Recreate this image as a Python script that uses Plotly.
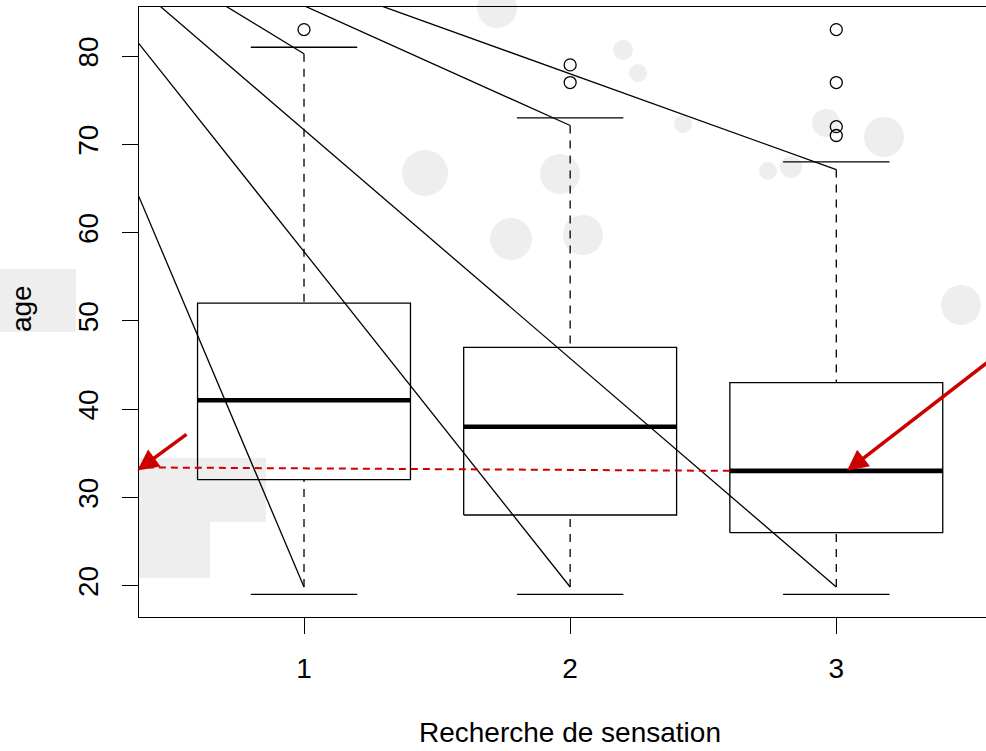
import plotly.graph_objects as go

# ---------------- data ----------------
groups = [1, 2, 3]
tick_labels = ["1", "2", "3"]
q1 = [32, 28, 26]
medians = [41, 38, 33]
q3 = [52, 47, 43]
whisker_low = [19, 19, 19]
whisker_high = [81, 73, 68]
outlier_x = [1, 2, 2, 3, 3, 3, 3]
outlier_y = [83, 77, 79, 71, 72, 77, 83]
# where the dashed whiskers / pointer lines end
line_end_low = [19.84, 19.84, 19.84]
line_end_high = [80.27, 72.13, 67.14]
# common origin of the black pointer lines (outside the plot)
pointer_origin_x = -0.141
pointer_origin_y = 101.2
# red dashed reference line: from box 3 median to the y axis
ref_x = [2.6, 0.38]
ref_y = [33.0, 33.39]
# red arrows (tail -> head)
arrow_tail_x = [0.564, 3.62]
arrow_tail_y = [37.25, 46.5]
arrow_head_x = [0.374, 3.04]
arrow_head_y = [33.05, 33.0]
y_ticks = [20, 30, 40, 50, 60, 70, 80]

x_title = "Recherche de sensation"
y_title = "age"

# faint watermark blobs of the page background (pixel centre x, y, radius)
bg_blob_x = [425, 560, 511, 583, 497, 623, 638, 884, 961, 768, 791, 826, 683]
bg_blob_y = [173, 174, 239, 235, 8, 50, 73, 137, 305, 171, 167, 123, 124]
bg_blob_r = [23, 20, 21, 20, 20, 10, 9, 20, 20, 9, 11, 14, 9]

# ---------------- style ----------------
FONT = "Liberation Sans, Arial, sans-serif"
FS = 28
BOX_HALF = 0.4
CAP_HALF = 0.2
LW = 1.3
RED = "#cd0000"
BG_GREY = "#eeeeee"
W, H = 986, 751
ML, MR, MT, MB = 139, 0, 7, 134
PW, PH = W - ML - MR, H - MT - MB

fig = go.Figure()

# boxes
bx, by = [], []
for g, a, b in zip(groups, q1, q3):
    bx += [g - BOX_HALF, g + BOX_HALF, g + BOX_HALF, g - BOX_HALF, g - BOX_HALF, None]
    by += [a, a, b, b, a, None]
fig.add_trace(go.Scatter(x=bx, y=by, mode="lines", line=dict(color="black", width=LW),
                         hoverinfo="skip", showlegend=False))

# whiskers (dashed)
wx, wy = [], []
for g, a, b, lo, hi in zip(groups, q1, q3, line_end_low, line_end_high):
    wx += [g, g, None, g, g, None]
    wy += [lo, a, None, hi, b, None]
fig.add_trace(go.Scatter(x=wx, y=wy, mode="lines",
                         line=dict(color="black", width=LW, dash="8px,7px"),
                         hoverinfo="skip", showlegend=False))

# staples
sx, sy = [], []
for g, lo, hi in zip(groups, whisker_low, whisker_high):
    sx += [g - CAP_HALF, g + CAP_HALF, None, g - CAP_HALF, g + CAP_HALF, None]
    sy += [lo, lo, None, hi, hi, None]
fig.add_trace(go.Scatter(x=sx, y=sy, mode="lines", line=dict(color="black", width=LW),
                         hoverinfo="skip", showlegend=False))

# medians
mx, my = [], []
for g, m in zip(groups, medians):
    mx += [g - BOX_HALF, g + BOX_HALF, None]
    my += [m, m, None]
fig.add_trace(go.Scatter(x=mx, y=my, mode="lines", line=dict(color="black", width=4.6),
                         hoverinfo="skip", showlegend=False))

# outliers
fig.add_trace(go.Scatter(x=outlier_x, y=outlier_y, mode="markers",
                         marker=dict(symbol="circle-open", size=12, color="black",
                                     line=dict(width=LW, color="black")),
                         hoverinfo="skip", showlegend=False, cliponaxis=False))

# pointer lines
px_, py_ = [], []
for g, lo, hi in zip(groups, line_end_low, line_end_high):
    px_ += [pointer_origin_x, g, None, pointer_origin_x, g, None]
    py_ += [pointer_origin_y, lo, None, pointer_origin_y, hi, None]
fig.add_trace(go.Scatter(x=px_, y=py_, mode="lines", line=dict(color="black", width=LW),
                         hoverinfo="skip", showlegend=False))

# red dashed reference
fig.add_trace(go.Scatter(x=ref_x, y=ref_y, mode="lines",
                         line=dict(color=RED, width=2, dash="7px,5px"),
                         hoverinfo="skip", showlegend=False))

annotations = []
for tx, ty, hx, hy in zip(arrow_tail_x, arrow_tail_y, arrow_head_x, arrow_head_y):
    annotations.append(dict(x=hx, y=hy, ax=tx, ay=ty, xref="x", yref="y", axref="x", ayref="y",
                            text="", showarrow=True, arrowhead=2, arrowsize=1.2,
                            arrowwidth=3.5, arrowcolor=RED, standoff=0))

annotations.append(dict(x=2, y=-0.19, xref="x", yref="paper", text=x_title, showarrow=False,
                        font=dict(family=FONT, size=FS, color="black"),
                        xanchor="center", yanchor="middle"))
annotations.append(dict(x=-0.138, y=0.505, xref="paper", yref="paper", text=y_title,
                        showarrow=False, textangle=-90,
                        font=dict(family=FONT, size=FS, color="black"),
                        xanchor="center", yanchor="middle"))

# faint background decoration (page watermark), drawn below everything
shapes = []
def pxx(v):
    return (v - ML) / PW
def pxy(v):
    return (H - MB - v) / PH
for cx, cy, r in zip(bg_blob_x, bg_blob_y, bg_blob_r):
    shapes.append(dict(type="circle", xref="paper", yref="paper", layer="below",
                       x0=pxx(cx - r), x1=pxx(cx + r), y0=pxy(cy + r), y1=pxy(cy - r),
                       fillcolor=BG_GREY, line=dict(width=0)))
for x0, y0, x1, y1 in [(0, 269, 76, 332), (139, 458, 266, 522), (139, 522, 210, 578)]:
    shapes.append(dict(type="rect", xref="paper", yref="paper", layer="below",
                       x0=pxx(x0), x1=pxx(x1), y0=pxy(y1), y1=pxy(y0),
                       fillcolor=BG_GREY, line=dict(width=0)))

fig.update_layout(
    width=W, height=H,
    margin=dict(l=ML, r=MR, t=MT, b=MB, pad=0),
    paper_bgcolor="white", plot_bgcolor="rgba(0,0,0,0)",
    font=dict(family=FONT, size=FS, color="black"),
    showlegend=False,
    annotations=annotations,
    shapes=shapes,
    xaxis=dict(range=[0.38, 3.5625], tickmode="array", tickvals=groups, ticktext=tick_labels,
               showgrid=False, zeroline=False, showline=True, linecolor="black", linewidth=LW,
               mirror=True, ticks="outside", ticklen=16, tickwidth=LW, tickcolor="black",
               ticklabelstandoff=10,
               tickfont=dict(family=FONT, size=FS, color="black")),
    yaxis=dict(range=[16.44, 85.56], tickmode="array", tickvals=y_ticks,
               showgrid=False, zeroline=False, showline=True, linecolor="black", linewidth=LW,
               ticks="outside", ticklen=16, tickwidth=LW, tickcolor="black", tickangle=-90,
               ticklabelstandoff=13,
               tickfont=dict(family=FONT, size=FS, color="black")),
)

fig.write_html("out.html", config={"displayModeBar": False},
               post_script="document.body.style.margin='0';document.body.style.overflow='hidden';")
